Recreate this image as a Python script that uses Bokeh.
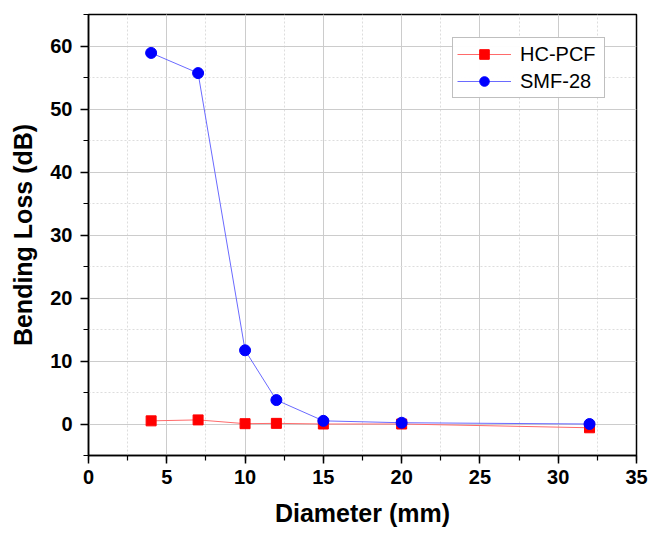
from bokeh.plotting import figure
from bokeh.models import Range1d, SingleIntervalTicker, Legend, LegendItem
from bokeh.embed import file_html
from bokeh.resources import INLINE

diameter = [4, 7, 10, 12, 15, 20, 32]
hc_pcf = [0.5, 0.65, 0.05, 0.1, 0.0, 0.0, -0.6]
smf_28 = [58.9, 55.7, 11.7, 3.8, 0.5, 0.2, 0.0]

p = figure(width=648, height=534, output_backend="svg", toolbar_location=None,
           x_range=Range1d(0, 35), y_range=Range1d(-5, 65),
           min_border_left=88, min_border_right=12, min_border_top=14, min_border_bottom=79)
p.background_fill_color = "white"
p.border_fill_color = "white"
p.outline_line_color = "black"
p.outline_line_width = 1.5

p.xaxis.ticker = SingleIntervalTicker(interval=5, num_minor_ticks=2)
p.yaxis.ticker = SingleIntervalTicker(interval=10, num_minor_ticks=2)

for ax in (p.xaxis, p.yaxis):
    ax.axis_line_color = "black"
    ax.axis_line_width = 1.5
    ax.major_tick_line_color = "black"
    ax.major_tick_line_width = 1.5
    ax.minor_tick_line_color = "black"
    ax.minor_tick_line_width = 1.2
    ax.major_tick_out = 8
    ax.major_tick_in = 0
    ax.minor_tick_out = 5
    ax.minor_tick_in = 0
    ax.major_label_text_font = "Liberation Sans"
    ax.major_label_text_font_style = "bold"
    ax.major_label_text_font_size = "20px"
    ax.major_label_text_color = "black"
    ax.major_label_standoff = 6
    ax.axis_label_text_font = "Liberation Sans"
    ax.axis_label_text_font_style = "bold"
    ax.axis_label_text_font_size = "25px"
    ax.axis_label_text_color = "black"

p.yaxis.major_label_standoff = 8
p.xaxis.axis_label = "Diameter (mm)"
p.yaxis.axis_label = "Bending Loss (dB)"
p.xaxis.axis_label_standoff = 12
p.yaxis.axis_label_standoff = 10

for g in (p.xgrid, p.ygrid):
    g.grid_line_color = "#cccccc"
    g.grid_line_width = 1
    g.minor_grid_line_color = "#dddddd"
    g.minor_grid_line_dash = "2 2"

l1 = p.line(diameter, hc_pcf, line_color="#ff6a6a", line_width=1)
m1 = p.scatter(diameter, hc_pcf, marker="square", size=10, fill_color="red", line_color="red")
l2 = p.line(diameter, smf_28, line_color="#6a6aff", line_width=1)
m2 = p.scatter(diameter, smf_28, marker="circle", size=11, fill_color="blue", line_color="blue")

legend = Legend(items=[LegendItem(label="HC-PCF", renderers=[l1, m1]),
                       LegendItem(label="SMF-28", renderers=[l2, m2])],
                location=(364, 357))
legend.label_text_font = "Liberation Sans"
legend.label_text_font_size = "20px"
legend.label_text_color = "black"
legend.border_line_color = "#808080"
legend.border_line_width = 1
legend.glyph_width = 54
legend.glyph_height = 24
legend.label_height = 24
legend.label_width = 80
legend.label_standoff = 9
legend.spacing = 3
legend.padding = 4
legend.margin = 0
p.add_layout(legend)

open("out.html", "w").write(file_html(p, INLINE))
